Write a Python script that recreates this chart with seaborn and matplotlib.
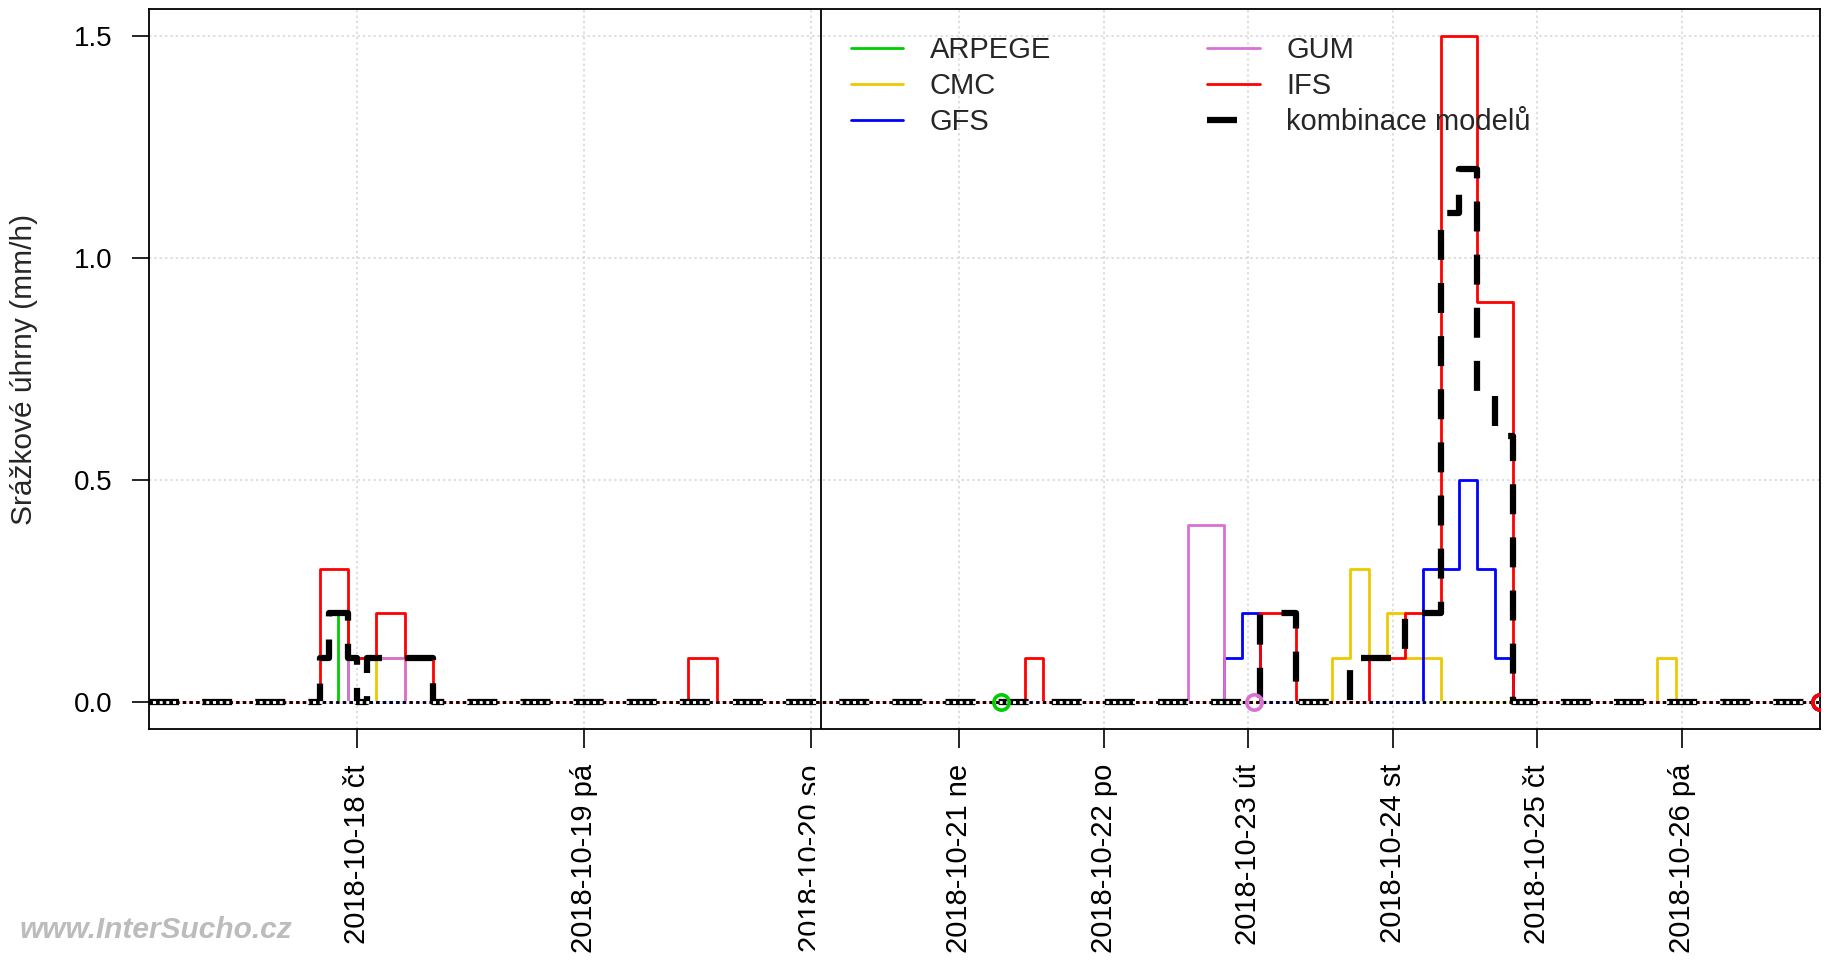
import numpy as np
import pandas as pd
import matplotlib
matplotlib.use("Agg")
import matplotlib.pyplot as plt
import seaborn as sns
from matplotlib.patches import Rectangle

# ------------------------------
# Data: hours since 2018-10-17 00:00, step values (mm/h), value holds until next time
# ------------------------------
arpege_t = [2, 22, 23, 103]
arpege_v = [0, 0.2, 0, 0]

cmc_t = [2, 26, 29, 158, 161, 164, 167, 170, 176, 212, 215, 239]
cmc_v = [0, 0.1, 0, 0.1, 0.3, 0.1, 0.2, 0.1, 0, 0.1, 0, 0]

gfs_t = [2, 140, 143, 146, 173, 179, 182, 185, 188, 239]
gfs_v = [0, 0.1, 0.2, 0, 0.3, 0.5, 0.3, 0.1, 0, 0]

gum_t = [2, 23, 29, 134, 140, 145]
gum_v = [0, 0.1, 0, 0.4, 0, 0]

ifs_t = [2, 20, 23, 26, 29, 32, 59, 62, 107, 110, 146, 152, 164, 170, 176, 182, 188, 239]
ifs_v = [0, 0.3, 0.1, 0.2, 0.1, 0, 0.1, 0, 0.1, 0, 0.2, 0, 0.1, 0.2, 1.5, 0.9, 0, 0]

comb_t = [2, 20, 21, 23, 24, 25, 32, 146, 152, 161, 170, 176, 179, 182, 185, 188, 239]
comb_v = [0, 0.1, 0.2, 0.1, 0, 0.1, 0, 0.2, 0, 0.1, 0.2, 1.1, 1.2, 0.7, 0.6, 0, 0]

models = ["ARPEGE", "CMC", "GFS", "GUM", "IFS"]
colors = ["#00CD00", "#EEC900", "#0000FF", "#DA70D6", "#FF0000"]
series = [(arpege_t, arpege_v), (cmc_t, cmc_v), (gfs_t, gfs_v), (gum_t, gum_v), (ifs_t, ifs_v)]
comb_label = "kombinace modelů"

tick_hours = [24, 48, 72, 96, 120, 144, 168, 192, 216]
tick_labels = ["2018-10-18 čt", "2018-10-19 pá", "2018-10-20 so", "2018-10-21 ne",
               "2018-10-22 po", "2018-10-23 út", "2018-10-24 st", "2018-10-25 čt",
               "2018-10-26 pá"]

BREAK_H = 73          # history / forecast split
RIGHT_SCALE = 0.6366  # forecast part is drawn compressed


def fwd(x):
    x = np.asarray(x, dtype=float)
    return np.where(x <= BREAK_H, x, BREAK_H + (x - BREAK_H) * RIGHT_SCALE)


def inv(y):
    y = np.asarray(y, dtype=float)
    return np.where(y <= BREAK_H, y, BREAK_H + (y - BREAK_H) / RIGHT_SCALE)


def main():
    sns.set_theme(style="white")
    plt.rcParams["font.family"] = ["Liberation Sans", "DejaVu Sans"]

    fig = plt.figure(figsize=(18.28, 9.61), dpi=100)
    W, H = 1828, 961
    ax = fig.add_axes([149.3 / W, 1 - 729 / H, (1820 - 149.3) / W, 720 / H])
    ax.set_xscale("function", functions=(fwd, inv))

    # model lines
    for name, col, (t, v) in zip(models, colors, series):
        df = pd.DataFrame({"h": t, "v": v})
        sns.lineplot(data=df, x="h", y="v", ax=ax, color=col, lw=2.0,
                     drawstyle="steps-post", estimator=None, errorbar=None,
                     label=name, zorder=3)

    # combined model
    dfc = pd.DataFrame({"h": comb_t, "v": comb_v})
    sns.lineplot(data=dfc, x="h", y="v", ax=ax, color="black", lw=4.5,
                 ls=(0, (4.8, 3.7)), dash_capstyle="butt",
                 drawstyle="steps-post", estimator=None, errorbar=None,
                 label=comb_label, zorder=4)

    # zero line, dotted black on white
    ax.axhline(0, color="black", lw=2.0, ls=(0, (1.2, 1.2)), gapcolor="white", zorder=5)

    # end-of-forecast circles
    for col, (t, v) in zip(colors, series):
        ax.plot([t[-1]], [v[-1]], marker="o", ms=11, mfc="none", mec=col, mew=2.6,
                zorder=6, clip_on=True)

    ax.axvline(BREAK_H, color="black", lw=1.3, zorder=6)

    ax.set_xlim(2, 239)
    ax.set_ylim(-0.06, 1.56)
    ax.set_yticks([0, 0.5, 1.0, 1.5])
    ax.set_yticklabels(["0.0", "0.5", "1.0", "1.5"])
    ax.set_xticks(tick_hours)
    ax.set_xticklabels(tick_labels, rotation=90)
    ax.xaxis.set_minor_locator(matplotlib.ticker.NullLocator())

    ax.grid(True, color="#d4d4d4", ls=(0, (1.5, 2)), lw=1.1)
    ax.set_axisbelow(True)

    ax.tick_params(axis="x", length=13.7, width=1.2, pad=11.5, labelsize=21,
                   bottom=True, color="black", labelcolor="black")
    ax.tick_params(axis="y", length=12.2, width=1.2, pad=14, labelsize=20,
                   left=True, color="black", labelcolor="black")
    for s in ax.spines.values():
        s.set_color("black")
        s.set_linewidth(1.3)

    ax.set_xlabel("")
    ax.set_ylabel("Srážkové úhrny (mm/h)", fontsize=21.5, va="center")
    ax.yaxis.set_label_coords(-0.075, 0.5)

    handles, labels = ax.get_legend_handles_labels()
    ax.legend(handles, labels, ncol=2, loc="upper left", bbox_to_anchor=(0.42, 0.962),
              frameon=False, fontsize=21, handlelength=1.8, handletextpad=0.9,
              columnspacing=5.36, labelspacing=0.27, borderpad=0, borderaxespad=0)

    fig.text(20 / W, 1 - 930 / H, "www.InterSucho.cz", fontsize=21.5, style="italic",
             weight="bold", color="#bcbcbc", ha="left", va="center")

    # the "2018-10-20 so" label is cut at the split in the original
    fig.add_artist(Rectangle((815 / W, 0), 22 / W, (961 - 752) / H,
                             transform=fig.transFigure, facecolor="white",
                             edgecolor="none", zorder=10))

    fig.savefig("out.png", dpi=100)


if __name__ == "__main__":
    main()
